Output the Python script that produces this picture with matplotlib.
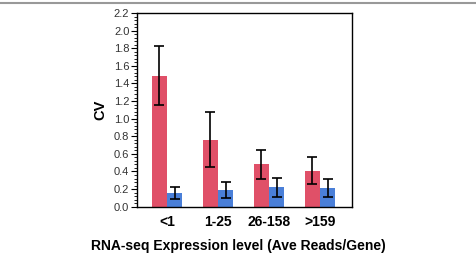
import numpy as np
import matplotlib.pyplot as plt
from matplotlib.lines import Line2D
from matplotlib.ticker import MultipleLocator

plt.rcParams['font.family'] = ['Liberation Sans', 'DejaVu Sans']

groups = ["<1", "1-25", "26-158", ">159"]
red_vals = [1.49, 0.76, 0.48, 0.41]
red_err = [0.34, 0.31, 0.16, 0.155]
blue_vals = [0.155, 0.19, 0.22, 0.21]
blue_err = [0.07, 0.09, 0.105, 0.10]

red_color = "#E05068"
blue_color = "#4A7FD8"

fig = plt.figure(figsize=(4.76, 2.54), dpi=100)
ax = fig.add_axes([137/476, 1-206.7/254, 215/476, (206.7-13)/254])

x = np.arange(len(groups))
w = 0.30
ax.bar(x - w/2, red_vals, w, color=red_color, yerr=red_err, capsize=3.8,
       error_kw=dict(elinewidth=1.2, capthick=1.2, ecolor="black"))
ax.bar(x + w/2, blue_vals, w, color=blue_color, yerr=blue_err, capsize=3.8,
       error_kw=dict(elinewidth=1.2, capthick=1.2, ecolor="black"))

ax.set_xlim(-0.59, 3.63)
ax.set_ylim(0, 2.2)
ax.yaxis.set_major_locator(MultipleLocator(0.2))
ax.yaxis.set_minor_locator(MultipleLocator(0.04))
ax.set_yticklabels([f"{v:.1f}" for v in ax.get_yticks()])
ax.tick_params(axis='y', which='major', labelsize=8, length=4, width=0.8, pad=1.5, labelcolor="#333333")
ax.tick_params(axis='y', which='minor', length=2.5, width=0.6)
ax.set_xticks(x)
ax.set_xticklabels(groups, fontsize=10, fontweight='bold')
ax.tick_params(axis='x', length=0, pad=6)
for s in ax.spines.values():
    s.set_linewidth(1.0)

ax.set_ylabel("CV", fontsize=10.5, fontweight='bold', labelpad=5)
fig.text(0.5, 1-246/254, "RNA-seq Expression level (Ave Reads/Gene)",
         ha='center', va='center', fontsize=10, fontweight='bold')

fig.add_artist(Line2D([0, 1], [1-3/254, 1-3/254], color="#999999", linewidth=1.5,
                      transform=fig.transFigure))

fig.savefig("out.png", dpi=100)
